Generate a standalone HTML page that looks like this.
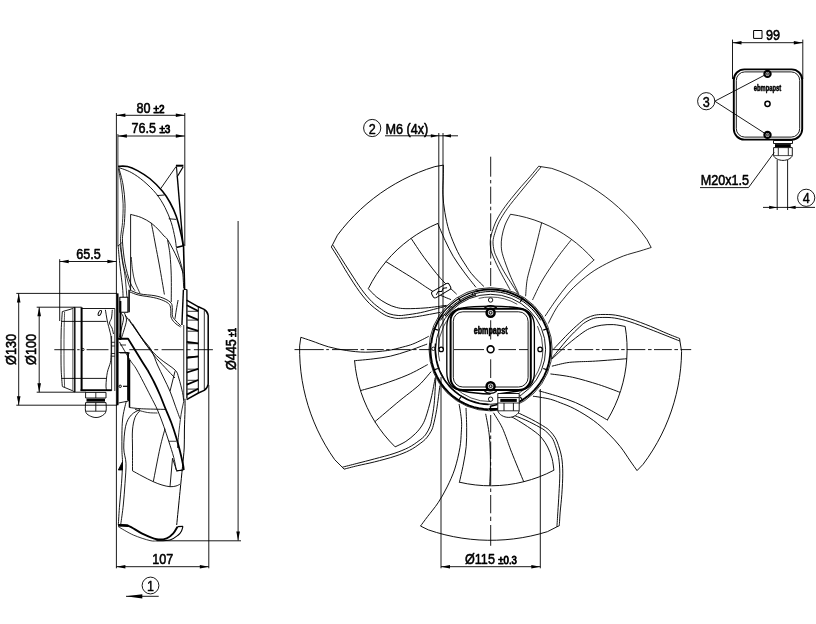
<!DOCTYPE html>
<html><head><meta charset="utf-8"><title>Fan drawing</title>
<style>
html,body{margin:0;padding:0;background:#fff;}
svg{display:block;filter:grayscale(1);}
svg *{vector-effect:none;}
text{font-family:"Liberation Sans",sans-serif;fill:#000;stroke:#000;stroke-width:0.5px;stroke-linejoin:round;}
</style></head><body>
<svg width="816" height="624" viewBox="0 0 816 624" fill="none" stroke="#000" stroke-linecap="butt" stroke-linejoin="round">
<rect x="0" y="0" width="816" height="624" fill="#fff" stroke="none"/>
<g id="front">
<path d="M538.70 166.20 C537.25 167.95 533.40 172.73 530.00 176.70 C526.60 180.67 522.47 185.00 518.30 190.00 C514.13 195.00 508.60 201.70 505.00 206.70 C501.40 211.70 498.83 215.83 496.70 220.00 C494.57 224.17 493.27 228.37 492.20 231.70 C491.13 235.03 490.57 237.28 490.30 240.00 C490.03 242.72 490.28 245.67 490.60 248.00 C490.92 250.33 490.84 250.54 492.20 254.00 C493.56 257.46 495.73 262.72 498.75 268.75 C501.77 274.78 508.38 286.62 510.30 290.20 M541.30 166.70 C539.70 168.63 535.25 174.00 531.70 178.30 C528.15 182.60 524.03 187.50 520.00 192.50 C515.97 197.50 510.97 203.43 507.50 208.30 C504.03 213.17 501.32 217.53 499.20 221.70 C497.08 225.87 495.83 229.97 494.80 233.30 C493.77 236.63 493.10 238.75 493.00 241.70 C492.90 244.65 493.53 248.28 494.20 251.00 C494.87 253.72 495.41 254.62 497.00 258.00 C498.59 261.38 501.08 266.58 503.75 271.25 C506.42 275.92 510.50 282.04 513.00 286.00 C515.50 289.96 517.79 293.50 518.75 295.00 M538.70 166.20 L541.30 166.70 L551.76 168.36 L559.90 171.31 L567.89 174.64 L575.72 178.32 L583.38 182.35 L590.85 186.73 L598.12 191.44 L605.16 196.47 L611.97 201.82 L618.52 207.47 L624.82 213.41 L630.84 219.63 L636.57 226.12 L642.00 232.86 L647.12 239.84 L651.20 247.50 M651.20 247.50 C649.33 248.08 644.65 249.58 640.00 251.00 C635.35 252.42 628.85 253.92 623.30 256.00 C617.75 258.08 612.25 260.58 606.70 263.50 C601.15 266.42 595.57 269.47 590.00 273.50 C584.43 277.53 577.80 283.37 573.30 287.70 C568.80 292.03 565.77 296.17 563.00 299.50 C560.23 302.83 558.62 304.78 556.70 307.70 C554.78 310.62 552.90 314.37 551.50 317.00 C550.10 319.63 548.83 322.42 548.30 323.50 M510.49 214.26 L518.47 215.68 L526.35 217.56 L534.10 219.92 L541.71 222.73 L549.13 225.98 L556.34 229.67 L563.32 233.79 L570.05 238.31 L576.50 243.22 L582.64 248.50 L588.46 254.14 L593.94 260.11 M510.50 214.20 C509.58 216.00 506.43 221.25 505.00 225.00 C503.57 228.75 502.52 233.08 501.90 236.70 C501.28 240.32 501.10 243.44 501.30 246.70 C501.50 249.96 501.65 251.53 503.10 256.25 C504.55 260.97 507.39 268.75 510.00 275.00 C512.61 281.25 517.29 290.62 518.75 293.75 M594.30 259.80 C591.92 261.92 584.47 268.30 580.00 272.50 C575.53 276.70 571.50 280.42 567.50 285.00 C563.50 289.58 559.75 294.79 556.00 300.00 C552.25 305.21 546.83 313.54 545.00 316.25 M541.70 222.50 C540.45 227.63 536.23 245.38 534.20 253.30 C532.17 261.22 530.72 265.34 529.50 270.00 C528.28 274.66 527.55 276.88 526.90 281.25 C526.25 285.62 525.82 293.75 525.60 296.25 M571.50 239.50 C569.17 242.50 562.33 250.75 557.50 257.50 C552.67 264.25 546.67 272.92 542.50 280.00 C538.33 287.08 534.17 296.67 532.50 300.00" stroke-width="0.85" transform="rotate(0 490.60 349.30)"/>
<path d="M538.70 166.20 C537.25 167.95 533.40 172.73 530.00 176.70 C526.60 180.67 522.47 185.00 518.30 190.00 C514.13 195.00 508.60 201.70 505.00 206.70 C501.40 211.70 498.83 215.83 496.70 220.00 C494.57 224.17 493.27 228.37 492.20 231.70 C491.13 235.03 490.57 237.28 490.30 240.00 C490.03 242.72 490.28 245.67 490.60 248.00 C490.92 250.33 490.84 250.54 492.20 254.00 C493.56 257.46 495.73 262.72 498.75 268.75 C501.77 274.78 508.38 286.62 510.30 290.20 M541.30 166.70 C539.70 168.63 535.25 174.00 531.70 178.30 C528.15 182.60 524.03 187.50 520.00 192.50 C515.97 197.50 510.97 203.43 507.50 208.30 C504.03 213.17 501.32 217.53 499.20 221.70 C497.08 225.87 495.83 229.97 494.80 233.30 C493.77 236.63 493.10 238.75 493.00 241.70 C492.90 244.65 493.53 248.28 494.20 251.00 C494.87 253.72 495.41 254.62 497.00 258.00 C498.59 261.38 501.08 266.58 503.75 271.25 C506.42 275.92 510.50 282.04 513.00 286.00 C515.50 289.96 517.79 293.50 518.75 295.00 M538.70 166.20 L541.30 166.70 L551.76 168.36 L559.90 171.31 L567.89 174.64 L575.72 178.32 L583.38 182.35 L590.85 186.73 L598.12 191.44 L605.16 196.47 L611.97 201.82 L618.52 207.47 L624.82 213.41 L630.84 219.63 L636.57 226.12 L642.00 232.86 L647.12 239.84 L651.20 247.50 M651.20 247.50 C649.33 248.08 644.65 249.58 640.00 251.00 C635.35 252.42 628.85 253.92 623.30 256.00 C617.75 258.08 612.25 260.58 606.70 263.50 C601.15 266.42 595.57 269.47 590.00 273.50 C584.43 277.53 577.80 283.37 573.30 287.70 C568.80 292.03 565.77 296.17 563.00 299.50 C560.23 302.83 558.62 304.78 556.70 307.70 C554.78 310.62 552.90 314.37 551.50 317.00 C550.10 319.63 548.83 322.42 548.30 323.50 M510.49 214.26 L518.47 215.68 L526.35 217.56 L534.10 219.92 L541.71 222.73 L549.13 225.98 L556.34 229.67 L563.32 233.79 L570.05 238.31 L576.50 243.22 L582.64 248.50 L588.46 254.14 L593.94 260.11 M510.50 214.20 C509.58 216.00 506.43 221.25 505.00 225.00 C503.57 228.75 502.52 233.08 501.90 236.70 C501.28 240.32 501.10 243.44 501.30 246.70 C501.50 249.96 501.65 251.53 503.10 256.25 C504.55 260.97 507.39 268.75 510.00 275.00 C512.61 281.25 517.29 290.62 518.75 293.75 M594.30 259.80 C591.92 261.92 584.47 268.30 580.00 272.50 C575.53 276.70 571.50 280.42 567.50 285.00 C563.50 289.58 559.75 294.79 556.00 300.00 C552.25 305.21 546.83 313.54 545.00 316.25 M541.70 222.50 C540.45 227.63 536.23 245.38 534.20 253.30 C532.17 261.22 530.72 265.34 529.50 270.00 C528.28 274.66 527.55 276.88 526.90 281.25 C526.25 285.62 525.82 293.75 525.60 296.25 M571.50 239.50 C569.17 242.50 562.33 250.75 557.50 257.50 C552.67 264.25 546.67 272.92 542.50 280.00 C538.33 287.08 534.17 296.67 532.50 300.00" stroke-width="0.85" transform="rotate(72 490.60 349.30)"/>
<path d="M538.70 166.20 C537.25 167.95 533.40 172.73 530.00 176.70 C526.60 180.67 522.47 185.00 518.30 190.00 C514.13 195.00 508.60 201.70 505.00 206.70 C501.40 211.70 498.83 215.83 496.70 220.00 C494.57 224.17 493.27 228.37 492.20 231.70 C491.13 235.03 490.57 237.28 490.30 240.00 C490.03 242.72 490.28 245.67 490.60 248.00 C490.92 250.33 490.84 250.54 492.20 254.00 C493.56 257.46 495.73 262.72 498.75 268.75 C501.77 274.78 508.38 286.62 510.30 290.20 M541.30 166.70 C539.70 168.63 535.25 174.00 531.70 178.30 C528.15 182.60 524.03 187.50 520.00 192.50 C515.97 197.50 510.97 203.43 507.50 208.30 C504.03 213.17 501.32 217.53 499.20 221.70 C497.08 225.87 495.83 229.97 494.80 233.30 C493.77 236.63 493.10 238.75 493.00 241.70 C492.90 244.65 493.53 248.28 494.20 251.00 C494.87 253.72 495.41 254.62 497.00 258.00 C498.59 261.38 501.08 266.58 503.75 271.25 C506.42 275.92 510.50 282.04 513.00 286.00 C515.50 289.96 517.79 293.50 518.75 295.00 M538.70 166.20 L541.30 166.70 L551.76 168.36 L559.90 171.31 L567.89 174.64 L575.72 178.32 L583.38 182.35 L590.85 186.73 L598.12 191.44 L605.16 196.47 L611.97 201.82 L618.52 207.47 L624.82 213.41 L630.84 219.63 L636.57 226.12 L642.00 232.86 L647.12 239.84 L651.20 247.50 M651.20 247.50 C649.33 248.08 644.65 249.58 640.00 251.00 C635.35 252.42 628.85 253.92 623.30 256.00 C617.75 258.08 612.25 260.58 606.70 263.50 C601.15 266.42 595.57 269.47 590.00 273.50 C584.43 277.53 577.80 283.37 573.30 287.70 C568.80 292.03 565.77 296.17 563.00 299.50 C560.23 302.83 558.62 304.78 556.70 307.70 C554.78 310.62 552.90 314.37 551.50 317.00 C550.10 319.63 548.83 322.42 548.30 323.50 M510.49 214.26 L518.47 215.68 L526.35 217.56 L534.10 219.92 L541.71 222.73 L549.13 225.98 L556.34 229.67 L563.32 233.79 L570.05 238.31 L576.50 243.22 L582.64 248.50 L588.46 254.14 L593.94 260.11 M510.50 214.20 C509.58 216.00 506.43 221.25 505.00 225.00 C503.57 228.75 502.52 233.08 501.90 236.70 C501.28 240.32 501.10 243.44 501.30 246.70 C501.50 249.96 501.65 251.53 503.10 256.25 C504.55 260.97 507.39 268.75 510.00 275.00 C512.61 281.25 517.29 290.62 518.75 293.75 M594.30 259.80 C591.92 261.92 584.47 268.30 580.00 272.50 C575.53 276.70 571.50 280.42 567.50 285.00 C563.50 289.58 559.75 294.79 556.00 300.00 C552.25 305.21 546.83 313.54 545.00 316.25 M541.70 222.50 C540.45 227.63 536.23 245.38 534.20 253.30 C532.17 261.22 530.72 265.34 529.50 270.00 C528.28 274.66 527.55 276.88 526.90 281.25 C526.25 285.62 525.82 293.75 525.60 296.25 M571.50 239.50 C569.17 242.50 562.33 250.75 557.50 257.50 C552.67 264.25 546.67 272.92 542.50 280.00 C538.33 287.08 534.17 296.67 532.50 300.00" stroke-width="0.85" transform="rotate(144 490.60 349.30)"/>
<path d="M538.70 166.20 C537.25 167.95 533.40 172.73 530.00 176.70 C526.60 180.67 522.47 185.00 518.30 190.00 C514.13 195.00 508.60 201.70 505.00 206.70 C501.40 211.70 498.83 215.83 496.70 220.00 C494.57 224.17 493.27 228.37 492.20 231.70 C491.13 235.03 490.57 237.28 490.30 240.00 C490.03 242.72 490.28 245.67 490.60 248.00 C490.92 250.33 490.84 250.54 492.20 254.00 C493.56 257.46 495.73 262.72 498.75 268.75 C501.77 274.78 508.38 286.62 510.30 290.20 M541.30 166.70 C539.70 168.63 535.25 174.00 531.70 178.30 C528.15 182.60 524.03 187.50 520.00 192.50 C515.97 197.50 510.97 203.43 507.50 208.30 C504.03 213.17 501.32 217.53 499.20 221.70 C497.08 225.87 495.83 229.97 494.80 233.30 C493.77 236.63 493.10 238.75 493.00 241.70 C492.90 244.65 493.53 248.28 494.20 251.00 C494.87 253.72 495.41 254.62 497.00 258.00 C498.59 261.38 501.08 266.58 503.75 271.25 C506.42 275.92 510.50 282.04 513.00 286.00 C515.50 289.96 517.79 293.50 518.75 295.00 M538.70 166.20 L541.30 166.70 L551.76 168.36 L559.90 171.31 L567.89 174.64 L575.72 178.32 L583.38 182.35 L590.85 186.73 L598.12 191.44 L605.16 196.47 L611.97 201.82 L618.52 207.47 L624.82 213.41 L630.84 219.63 L636.57 226.12 L642.00 232.86 L647.12 239.84 L651.20 247.50 M651.20 247.50 C649.33 248.08 644.65 249.58 640.00 251.00 C635.35 252.42 628.85 253.92 623.30 256.00 C617.75 258.08 612.25 260.58 606.70 263.50 C601.15 266.42 595.57 269.47 590.00 273.50 C584.43 277.53 577.80 283.37 573.30 287.70 C568.80 292.03 565.77 296.17 563.00 299.50 C560.23 302.83 558.62 304.78 556.70 307.70 C554.78 310.62 552.90 314.37 551.50 317.00 C550.10 319.63 548.83 322.42 548.30 323.50 M510.49 214.26 L518.47 215.68 L526.35 217.56 L534.10 219.92 L541.71 222.73 L549.13 225.98 L556.34 229.67 L563.32 233.79 L570.05 238.31 L576.50 243.22 L582.64 248.50 L588.46 254.14 L593.94 260.11 M510.50 214.20 C509.58 216.00 506.43 221.25 505.00 225.00 C503.57 228.75 502.52 233.08 501.90 236.70 C501.28 240.32 501.10 243.44 501.30 246.70 C501.50 249.96 501.65 251.53 503.10 256.25 C504.55 260.97 507.39 268.75 510.00 275.00 C512.61 281.25 517.29 290.62 518.75 293.75 M594.30 259.80 C591.92 261.92 584.47 268.30 580.00 272.50 C575.53 276.70 571.50 280.42 567.50 285.00 C563.50 289.58 559.75 294.79 556.00 300.00 C552.25 305.21 546.83 313.54 545.00 316.25 M541.70 222.50 C540.45 227.63 536.23 245.38 534.20 253.30 C532.17 261.22 530.72 265.34 529.50 270.00 C528.28 274.66 527.55 276.88 526.90 281.25 C526.25 285.62 525.82 293.75 525.60 296.25 M571.50 239.50 C569.17 242.50 562.33 250.75 557.50 257.50 C552.67 264.25 546.67 272.92 542.50 280.00 C538.33 287.08 534.17 296.67 532.50 300.00" stroke-width="0.85" transform="rotate(216 490.60 349.30)"/>
<path d="M538.70 166.20 C537.25 167.95 533.40 172.73 530.00 176.70 C526.60 180.67 522.47 185.00 518.30 190.00 C514.13 195.00 508.60 201.70 505.00 206.70 C501.40 211.70 498.83 215.83 496.70 220.00 C494.57 224.17 493.27 228.37 492.20 231.70 C491.13 235.03 490.57 237.28 490.30 240.00 C490.03 242.72 490.28 245.67 490.60 248.00 C490.92 250.33 490.84 250.54 492.20 254.00 C493.56 257.46 495.73 262.72 498.75 268.75 C501.77 274.78 508.38 286.62 510.30 290.20 M541.30 166.70 C539.70 168.63 535.25 174.00 531.70 178.30 C528.15 182.60 524.03 187.50 520.00 192.50 C515.97 197.50 510.97 203.43 507.50 208.30 C504.03 213.17 501.32 217.53 499.20 221.70 C497.08 225.87 495.83 229.97 494.80 233.30 C493.77 236.63 493.10 238.75 493.00 241.70 C492.90 244.65 493.53 248.28 494.20 251.00 C494.87 253.72 495.41 254.62 497.00 258.00 C498.59 261.38 501.08 266.58 503.75 271.25 C506.42 275.92 510.50 282.04 513.00 286.00 C515.50 289.96 517.79 293.50 518.75 295.00 M538.70 166.20 L541.30 166.70 L551.76 168.36 L559.90 171.31 L567.89 174.64 L575.72 178.32 L583.38 182.35 L590.85 186.73 L598.12 191.44 L605.16 196.47 L611.97 201.82 L618.52 207.47 L624.82 213.41 L630.84 219.63 L636.57 226.12 L642.00 232.86 L647.12 239.84 L651.20 247.50 M651.20 247.50 C649.33 248.08 644.65 249.58 640.00 251.00 C635.35 252.42 628.85 253.92 623.30 256.00 C617.75 258.08 612.25 260.58 606.70 263.50 C601.15 266.42 595.57 269.47 590.00 273.50 C584.43 277.53 577.80 283.37 573.30 287.70 C568.80 292.03 565.77 296.17 563.00 299.50 C560.23 302.83 558.62 304.78 556.70 307.70 C554.78 310.62 552.90 314.37 551.50 317.00 C550.10 319.63 548.83 322.42 548.30 323.50 M510.49 214.26 L518.47 215.68 L526.35 217.56 L534.10 219.92 L541.71 222.73 L549.13 225.98 L556.34 229.67 L563.32 233.79 L570.05 238.31 L576.50 243.22 L582.64 248.50 L588.46 254.14 L593.94 260.11 M510.50 214.20 C509.58 216.00 506.43 221.25 505.00 225.00 C503.57 228.75 502.52 233.08 501.90 236.70 C501.28 240.32 501.10 243.44 501.30 246.70 C501.50 249.96 501.65 251.53 503.10 256.25 C504.55 260.97 507.39 268.75 510.00 275.00 C512.61 281.25 517.29 290.62 518.75 293.75 M594.30 259.80 C591.92 261.92 584.47 268.30 580.00 272.50 C575.53 276.70 571.50 280.42 567.50 285.00 C563.50 289.58 559.75 294.79 556.00 300.00 C552.25 305.21 546.83 313.54 545.00 316.25 M541.70 222.50 C540.45 227.63 536.23 245.38 534.20 253.30 C532.17 261.22 530.72 265.34 529.50 270.00 C528.28 274.66 527.55 276.88 526.90 281.25 C526.25 285.62 525.82 293.75 525.60 296.25 M571.50 239.50 C569.17 242.50 562.33 250.75 557.50 257.50 C552.67 264.25 546.67 272.92 542.50 280.00 C538.33 287.08 534.17 296.67 532.50 300.00" stroke-width="0.85" transform="rotate(288 490.60 349.30)"/>
<circle cx="490.60" cy="349.30" r="61.5" fill="#fff" stroke="none"/>
<circle cx="490.60" cy="349.30" r="61.60" stroke-width="0.8" />
<path d="M475.12 291.54 L479.30 290.58 L483.53 289.92 L487.80 289.57 L492.08 289.52 L496.35 289.78 L500.60 290.34 L504.79 291.21 L508.91 292.37 L512.94 293.83 L516.85 295.57 L520.63 297.59 L524.26 299.87 L527.71 302.41 L530.97 305.18 L534.02 308.18 L536.85 311.40 L539.45 314.80 L541.79 318.39 L543.87 322.13 L545.68 326.01 L547.21 330.02 L548.44 334.12 L549.38 338.30 L550.02 342.53 L550.35 346.80 L550.37 351.08 L550.09 355.36 L549.51 359.60 L548.62 363.79 L547.43 367.90 L545.96 371.92 L544.19 375.83 L542.16 379.59 L539.86 383.21 L537.31 386.65 L534.51 389.89 L531.49 392.93 L528.27 395.75 L524.85 398.32 L521.25 400.65 L517.50 402.71 L513.60 404.50 L509.60 406.00 L505.49 407.22 L501.31 408.13 L497.07 408.75 L492.80 409.06 L488.51 409.06" stroke-width="1.9" />
<path d="M431.33 343.07 L431.73 339.98 L432.30 336.91 L433.03 333.87 L433.92 330.88 L434.96 327.94 L436.15 325.06 L437.50 322.24 L438.98 319.50 L440.62 316.84 L442.38 314.27" stroke-width="1.9" />
<path d="M442.22 314.15 L444.29 311.46 L446.51 308.90 L448.87 306.47 L451.37 304.17 L453.99 302.02 L456.73 300.02 L459.58 298.18 L462.53 296.50 L465.56 294.99 L468.68 293.66 L471.87 292.51 L475.12 291.54" stroke-width="1.2" />
<path d="M445.05 316.21 L447.00 313.68 L449.09 311.26 L451.31 308.97 L453.66 306.81 L456.13 304.78 L458.71 302.90 L461.39 301.17 L464.17 299.59 L467.03 298.17 L469.97 296.92 L472.97 295.83 L476.03 294.92" stroke-width="1.3" />
<circle cx="450.45" cy="307.72" r="1.50" stroke-width="0.9" fill="#fff"/>
<circle cx="473.70" cy="294.03" r="1.50" stroke-width="0.9" fill="#fff"/>
<circle cx="490.60" cy="349.30" r="55.00" stroke-width="0.9" />
<path d="M488.67 404.67 L484.14 404.32 L479.65 403.61 L475.24 402.53 L470.93 401.09 L466.75 399.30 L462.73 397.18 L458.90 394.74 L455.29 391.99 L451.91 388.95 L448.79 385.65 L445.95 382.10 L443.41 378.33 L441.19 374.36 L439.31 370.23 L437.76 365.96 L436.58 361.57 L435.75 357.11 L435.30 352.59 L435.21 348.04 L435.50 343.51" stroke-width="1.4" />
<path d="M488.50 409.46 L483.58 409.09 L478.70 408.31 L473.91 407.14 L469.22 405.58 L464.68 403.64 L460.32 401.33 L456.16 398.67 L452.23 395.68 L448.56 392.38 L445.17 388.79 L442.08 384.94 L439.33 380.84 L436.91 376.54 L434.86 372.05 L433.19 367.40 L431.90 362.64 L431.00 357.78 L430.51 352.87 L430.42 347.93 L430.73 343.01" stroke-width="2.0" />
<path d="M440.54 320.40 L443.25 316.15 L446.32 312.15 L449.73 308.43 L453.45 305.02 L457.45 301.95 L461.70 299.24 L466.17 296.92 L470.83 294.99 L475.64 293.47 L480.56 292.38 L485.56 291.72 L490.60 291.50 L495.64 291.72 L500.64 292.38 L505.56 293.47 L510.37 294.99 L515.03 296.92 L519.50 299.24 L523.75 301.95 L527.75 305.02 L531.47 308.43 L534.88 312.15 L537.95 316.15 L540.66 320.40" stroke-width="1.0" />
<circle cx="490.60" cy="349.30" r="52.30" stroke-width="0.7" stroke-dasharray="60 22 40 30"/>
<rect x="450.60" y="308.80" width="80.20" height="81.20" rx="12.00" ry="12.00" stroke-width="2.0" fill="#fff"/>
<rect x="453.30" y="311.80" width="74.80" height="75.20" rx="9.50" ry="9.50" stroke-width="0.9" />
<path d="M446.8 349 L446.8 327 C446.8 316 452 309.5 462.7 308 C475 305.6 506 305.6 518.5 308 C529 309.5 534.4 316 534.4 327 L534.4 372 C534.4 383 529 389.5 518.5 391 L500 393.6" stroke-width="1.3" />
<path d="M446.8 349 L446.8 372 C446.8 383 452 389.5 462.7 391 C470 392.6 480 393.8 490.6 394" stroke-width="1.3" />
<path d="M484.5 307.8 Q490.6 303.6 496.7 307.8" stroke-width="1.6" />
<path d="M484.5 391.2 Q490.6 395.4 496.7 391.2" stroke-width="1.2" />
<circle cx="490.60" cy="312.75" r="4.00" stroke-width="2.5" fill="#ddd"/>
<circle cx="490.60" cy="312.75" r="1.40" stroke-width="1.0" />
<circle cx="490.60" cy="386.20" r="4.00" stroke-width="2.5" fill="#ddd"/>
<circle cx="490.60" cy="386.20" r="1.40" stroke-width="1.0" />
<circle cx="490.60" cy="300.00" r="2.20" stroke-width="0.9" />
<circle cx="490.60" cy="399.20" r="2.20" stroke-width="0.9" />
<circle cx="540.10" cy="349.40" r="2.20" stroke-width="1.3" />
<circle cx="441.20" cy="349.40" r="2.20" stroke-width="1.3" />
<circle cx="433.40" cy="348.80" r="1.70" stroke-width="0.9" />
<circle cx="490.60" cy="349.30" r="3.40" stroke-width="1.6" />
<line x1="460.92" y1="301.81" x2="458.27" y2="297.57" stroke-width="1.2" />
<line x1="520.28" y1="301.81" x2="522.93" y2="297.57" stroke-width="1.2" />
<line x1="543.22" y1="330.15" x2="547.92" y2="328.44" stroke-width="1.2" />
<line x1="543.22" y1="368.45" x2="547.92" y2="370.16" stroke-width="1.2" />
<line x1="520.28" y1="396.79" x2="522.93" y2="401.03" stroke-width="1.2" />
<line x1="460.92" y1="396.79" x2="458.27" y2="401.03" stroke-width="1.2" />
<line x1="437.98" y1="368.45" x2="433.28" y2="370.16" stroke-width="1.2" />
<line x1="437.98" y1="330.15" x2="433.28" y2="328.44" stroke-width="1.2" />
<path d="M497.8 393.5 L519.2 393.5 L519.2 410.8 C518.5 414.5 513.5 417.4 508.8 417.4 C503.5 417.4 499 414.5 497.8 410.8 Z" stroke-width="0.9" fill="#fff"/>
<line x1="497.80" y1="397.60" x2="519.20" y2="397.60" stroke-width="0.9" />
<line x1="500.30" y1="400.40" x2="516.80" y2="400.40" stroke-width="3.0" />
<line x1="497.80" y1="403.00" x2="519.20" y2="403.00" stroke-width="0.8" />
<line x1="497.80" y1="410.80" x2="519.20" y2="410.80" stroke-width="0.8" />
<line x1="504.00" y1="403.00" x2="504.00" y2="410.80" stroke-width="0.9" />
<line x1="513.40" y1="403.00" x2="513.40" y2="410.80" stroke-width="0.9" />
<path d="M497.50 404.50 L490.50 406.20 L490.50 410.20 L497.50 409.20" stroke-width="1.4" />
<text transform="translate(490.60 333.70) scale(0.630 1)" font-size="11.40" text-anchor="middle" font-weight="bold" style="stroke-width:0.7px">ebmpapst</text>
<g transform="translate(441.2 290.6) rotate(-30)"><rect x="-10" y="-3.5" width="20" height="7" rx="2.2" stroke-width="0.9" fill="#fff"/><path d="M-6.5 1.2 L-3 -0.8 L0 1 L3 -1 L6.5 0.5" stroke-width="0.9"/></g>
<path d="M294.50 349.60 H323.75 M326.25 349.60 H328.90 M332.00 349.60 H358.00 M360.60 349.60 H364.20 M366.80 349.60 H383.75 M386.25 349.60 H389.60 M392.00 349.60 H410.50 M413.00 349.60 H416.60 M419.20 349.60 H430.00 M454.00 349.60 H484.00 M498.50 349.60 H516.00 M519.00 349.60 H528.00 M552.60 349.60 H565.00 M567.60 349.60 H571.60 M574.70 349.60 H593.20 M595.90 349.60 H599.50 M602.00 349.60 H619.00 M621.20 349.60 H624.70 M626.80 349.60 H645.30 M648.00 349.60 H651.60 M654.00 349.60 H671.80 M674.40 349.60 H678.00 M680.60 349.60 H691.20" stroke-width="0.9" />
<path d="M490.70 156.70 V176.70 M490.70 180.00 V183.40 M490.70 186.70 V203.80 M490.70 206.70 V210.20 M490.70 213.30 V231.00 M490.70 234.00 V237.50 M490.70 240.50 V258.50 M490.70 261.50 V265.00 M490.70 268.00 V286.00 M490.70 320.25 V339.50 M490.70 359.30 V378.00 M490.70 415.00 V432.50 M490.70 435.50 V439.00 M490.70 441.50 V459.00 M490.70 462.00 V465.50 M490.70 468.00 V485.50 M490.70 488.50 V492.00 M490.70 495.00 V513.30 M490.70 516.70 V521.00 M490.70 525.00 V545.80" stroke-width="0.9" />
<line x1="441.00" y1="377.00" x2="441.00" y2="568.30" stroke-width="0.9" />
<line x1="540.30" y1="389.00" x2="540.30" y2="568.30" stroke-width="0.9" />
<line x1="441.00" y1="566.70" x2="540.30" y2="566.70" stroke-width="0.9" />
<path d="M441.00 566.70 L450.00 564.90 L450.00 568.50 Z" fill="#000" stroke="none"/>
<path d="M540.30 566.70 L531.30 568.50 L531.30 564.90 Z" fill="#000" stroke="none"/>
<text transform="translate(465.00 564.10) scale(0.819 1)" font-size="15.40" text-anchor="start" font-weight="normal" style="stroke-width:0.6px" >Ø115</text>
<text transform="translate(498.30 564.10) scale(0.920 1)" font-size="10.48" text-anchor="start" font-weight="normal" style="stroke-width:0.85px" >±0.3</text>
<circle cx="372.20" cy="128.00" r="8.60" stroke-width="0.9" />
<text transform="translate(372.20 133.60) scale(0.856 1)" font-size="14.74" text-anchor="middle" font-weight="normal" style="stroke-width:0.45px">2</text>
<text transform="translate(385.60 133.70) scale(0.819 1)" font-size="15.40" text-anchor="start" font-weight="normal" style="stroke-width:0.6px" >M6 (4x)</text>
<line x1="385.00" y1="135.80" x2="458.00" y2="135.80" stroke-width="0.9" />
<line x1="438.80" y1="133.00" x2="438.80" y2="349.00" stroke-width="0.9" />
<line x1="443.00" y1="133.00" x2="443.00" y2="349.00" stroke-width="0.9" />
<path d="M438.80 135.80 L430.80 137.40 L430.80 134.20 Z" fill="#000" stroke="none"/>
<path d="M443.00 135.80 L451.00 134.20 L451.00 137.40 Z" fill="#000" stroke="none"/>
</g>
<g id="detail">
<line x1="732.50" y1="39.60" x2="732.50" y2="79.00" stroke-width="0.9" />
<line x1="802.80" y1="39.60" x2="802.80" y2="79.00" stroke-width="0.9" />
<line x1="732.50" y1="42.70" x2="802.80" y2="42.70" stroke-width="0.9" />
<path d="M732.50 42.70 L741.50 40.90 L741.50 44.50 Z" fill="#000" stroke="none"/>
<path d="M802.80 42.70 L793.80 44.50 L793.80 40.90 Z" fill="#000" stroke="none"/>
<rect x="753.6" y="30.5" width="8.4" height="7.9" stroke-width="1"/>
<text transform="translate(766.00 39.60) scale(0.819 1)" font-size="15.40" text-anchor="start" font-weight="normal" style="stroke-width:0.6px" >99</text>
<rect x="733.80" y="69.40" width="68.40" height="70.20" rx="10.50" ry="10.50" stroke-width="1.9" />
<rect x="736.30" y="71.90" width="63.40" height="65.20" rx="8.50" ry="8.50" stroke-width="0.9" />
<circle cx="767.50" cy="73.90" r="3.10" stroke-width="2.2" fill="#ddd"/>
<circle cx="767.50" cy="73.90" r="1.00" stroke-width="0.8" />
<circle cx="767.50" cy="134.90" r="3.10" stroke-width="2.2" fill="#ddd"/>
<circle cx="767.50" cy="134.90" r="1.00" stroke-width="0.8" />
<text transform="translate(767.50 90.70) scale(0.630 1)" font-size="9.20" text-anchor="middle" font-weight="bold" style="stroke-width:0.55px">ebmpapst</text>
<circle cx="767.50" cy="103.80" r="2.60" stroke-width="1.5" />
<circle cx="706.20" cy="101.20" r="8.60" stroke-width="0.9" />
<text transform="translate(706.20 106.80) scale(0.856 1)" font-size="14.74" text-anchor="middle" font-weight="normal" style="stroke-width:0.45px">3</text>
<line x1="714.80" y1="101.20" x2="764.50" y2="75.20" stroke-width="0.9" />
<line x1="714.80" y1="101.20" x2="764.30" y2="133.00" stroke-width="0.9" />
<path d="M773.50 140.50 L792.50 140.50 L792.50 143.50 L773.50 143.50Z" stroke-width="0.9" />
<line x1="775.00" y1="145.60" x2="790.80" y2="145.60" stroke-width="3.0" />
<path d="M773.6 147.6 L792.3 147.6 L792.3 155.6 C791.5 158.5 787 160.4 783 160.4 C779 160.4 774.5 158.5 773.6 155.6 Z" stroke-width="0.9" />
<line x1="773.60" y1="155.60" x2="792.30" y2="155.60" stroke-width="0.7" />
<line x1="778.30" y1="147.60" x2="778.30" y2="155.60" stroke-width="0.8" />
<line x1="788.30" y1="147.60" x2="788.30" y2="155.60" stroke-width="0.8" />
<line x1="777.20" y1="160.00" x2="777.20" y2="210.00" stroke-width="0.9" />
<line x1="787.60" y1="160.00" x2="787.60" y2="210.00" stroke-width="0.9" />
<text transform="translate(700.80 184.70) scale(0.819 1)" font-size="15.40" text-anchor="start" font-weight="normal" style="stroke-width:0.6px" >M20x1.5</text>
<path d="M700.00 187.60 L748.50 187.60 L774.20 152.50" stroke-width="0.9" />
<line x1="763.00" y1="207.40" x2="815.00" y2="207.40" stroke-width="0.9" />
<path d="M777.20 207.40 L769.20 209.10 L769.20 205.70 Z" fill="#000" stroke="none"/>
<path d="M787.60 207.40 L795.60 205.70 L795.60 209.10 Z" fill="#000" stroke="none"/>
<circle cx="806.20" cy="197.80" r="8.60" stroke-width="0.9" />
<text transform="translate(806.20 203.40) scale(0.856 1)" font-size="14.74" text-anchor="middle" font-weight="normal" style="stroke-width:0.45px">4</text>
</g>
<g id="side">
<line x1="116.40" y1="113.00" x2="116.40" y2="568.30" stroke-width="0.9" />
<line x1="117.90" y1="134.00" x2="117.90" y2="246.00" stroke-width="0.8" />
<line x1="184.80" y1="113.00" x2="184.80" y2="246.00" stroke-width="0.9" />
<line x1="116.40" y1="115.30" x2="184.80" y2="115.30" stroke-width="0.9" />
<path d="M116.40 115.30 L125.40 113.50 L125.40 117.10 Z" fill="#000" stroke="none"/>
<path d="M184.80 115.30 L175.80 117.10 L175.80 113.50 Z" fill="#000" stroke="none"/>
<line x1="117.90" y1="136.00" x2="184.80" y2="136.00" stroke-width="0.9" />
<path d="M117.90 136.00 L126.90 134.20 L126.90 137.80 Z" fill="#000" stroke="none"/>
<path d="M184.80 136.00 L175.80 137.80 L175.80 134.20 Z" fill="#000" stroke="none"/>
<text transform="translate(136.50 112.60) scale(0.819 1)" font-size="15.40" text-anchor="start" font-weight="normal" style="stroke-width:0.6px" >80</text>
<text transform="translate(153.60 112.60) scale(0.950 1)" font-size="10.48" text-anchor="start" font-weight="normal" style="stroke-width:0.85px" >±2</text>
<text transform="translate(131.50 133.30) scale(0.819 1)" font-size="15.40" text-anchor="start" font-weight="normal" style="stroke-width:0.6px" >76.5</text>
<text transform="translate(159.40 133.30) scale(0.950 1)" font-size="10.48" text-anchor="start" font-weight="normal" style="stroke-width:0.85px" >±3</text>
<line x1="59.70" y1="259.20" x2="59.70" y2="321.00" stroke-width="0.9" />
<line x1="59.70" y1="261.50" x2="116.40" y2="261.50" stroke-width="0.9" />
<path d="M59.70 261.50 L68.70 259.70 L68.70 263.30 Z" fill="#000" stroke="none"/>
<path d="M116.40 261.50 L107.40 263.30 L107.40 259.70 Z" fill="#000" stroke="none"/>
<text transform="translate(76.30 258.70) scale(0.819 1)" font-size="15.40" text-anchor="start" font-weight="normal" style="stroke-width:0.6px" >65.5</text>
<line x1="16.30" y1="293.40" x2="117.20" y2="293.40" stroke-width="0.9" />
<line x1="16.30" y1="405.20" x2="117.20" y2="405.20" stroke-width="0.9" />
<line x1="18.70" y1="293.40" x2="18.70" y2="405.20" stroke-width="0.9" />
<path d="M18.70 293.40 L20.50 302.40 L16.90 302.40 Z" fill="#000" stroke="none"/>
<path d="M18.70 405.20 L16.90 396.20 L20.50 396.20 Z" fill="#000" stroke="none"/>
<text transform="translate(16.20 349.50) rotate(-90) scale(0.819 1)" font-size="15.40" text-anchor="middle" font-weight="normal" style="stroke-width:0.6px" >Ø130</text>
<line x1="36.70" y1="307.20" x2="81.60" y2="307.20" stroke-width="0.9" />
<line x1="36.70" y1="392.20" x2="86.00" y2="392.20" stroke-width="0.9" />
<line x1="39.20" y1="307.20" x2="39.20" y2="392.20" stroke-width="0.9" />
<path d="M39.20 307.20 L41.00 316.20 L37.40 316.20 Z" fill="#000" stroke="none"/>
<path d="M39.20 392.20 L37.40 383.20 L41.00 383.20 Z" fill="#000" stroke="none"/>
<text transform="translate(36.40 349.50) rotate(-90) scale(0.819 1)" font-size="15.40" text-anchor="middle" font-weight="normal" style="stroke-width:0.6px" >Ø100</text>
<line x1="238.10" y1="221.00" x2="238.10" y2="540.60" stroke-width="0.9" />
<path d="M238.10 540.60 L236.30 531.60 L239.90 531.60 Z" fill="#000" stroke="none"/>
<line x1="156.70" y1="540.80" x2="241.00" y2="540.80" stroke-width="0.9" />
<text transform="translate(235.50 370.00) rotate(-90) scale(0.819 1)" font-size="15.40" text-anchor="start" font-weight="normal" style="stroke-width:0.6px" >Ø445</text>
<text transform="translate(235.50 337.00) rotate(-90) scale(0.800 1)" font-size="10.48" text-anchor="start" font-weight="normal" style="stroke-width:0.85px" >±1</text>
<line x1="208.80" y1="385.00" x2="208.80" y2="568.30" stroke-width="0.9" />
<line x1="116.40" y1="566.70" x2="208.80" y2="566.70" stroke-width="0.9" />
<path d="M116.40 566.70 L125.40 564.90 L125.40 568.50 Z" fill="#000" stroke="none"/>
<path d="M208.80 566.70 L199.80 568.50 L199.80 564.90 Z" fill="#000" stroke="none"/>
<text transform="translate(152.20 563.70) scale(0.819 1)" font-size="15.40" text-anchor="start" font-weight="normal" style="stroke-width:0.6px" >107</text>
<circle cx="150.50" cy="585.50" r="8.40" stroke-width="0.9" />
<text transform="translate(150.50 591.10) scale(0.856 1)" font-size="14.74" text-anchor="middle" font-weight="normal" style="stroke-width:0.45px">1</text>
<line x1="126.00" y1="596.30" x2="158.70" y2="596.30" stroke-width="0.9" />
<path d="M125.80 596.30 L142.30 594.20 L142.30 598.40 Z" fill="#000" stroke="none"/>
<path d="M54.30 349.70 H74.10 M77.20 349.70 H79.60 M86.60 349.70 H108.50 M129.30 349.70 H151.20 M154.30 349.70 H158.20 M161.60 349.70 H183.50 M186.60 349.70 H190.50 M193.90 349.70 H212.90" stroke-width="0.9" />
<path d="M118.10 166.25 C119.67 166.29 124.27 165.78 127.50 166.50 C130.73 167.22 133.75 168.56 137.50 170.60 C141.25 172.64 145.83 175.31 150.00 178.75 C154.17 182.19 159.17 187.29 162.50 191.25 C165.83 195.21 167.71 198.33 170.00 202.50 C172.29 206.67 174.38 210.83 176.25 216.25 C178.12 221.67 180.09 230.11 181.25 235.00 C182.41 239.89 182.88 243.83 183.20 245.60" stroke-width="1.6" />
<path d="M118.75 167.50 C120.83 168.33 127.08 170.21 131.25 172.50 C135.42 174.79 139.58 177.71 143.75 181.25 C147.92 184.79 152.71 189.38 156.25 193.75 C159.79 198.12 162.50 202.71 165.00 207.50 C167.50 212.29 169.58 217.42 171.25 222.50 C172.92 227.58 174.16 233.88 175.00 238.00 C175.84 242.12 176.08 245.67 176.30 247.20" stroke-width="0.9" />
<line x1="156.90" y1="195.60" x2="164.40" y2="195.00" stroke-width="0.9" />
<line x1="168.75" y1="218.75" x2="176.25" y2="219.40" stroke-width="0.9" />
<line x1="176.30" y1="247.50" x2="183.30" y2="245.80" stroke-width="1.6" />
<line x1="175.90" y1="165.70" x2="183.40" y2="165.70" stroke-width="2.0" />
<line x1="183.10" y1="166.90" x2="177.50" y2="176.25" stroke-width="1.1" />
<line x1="176.50" y1="166.70" x2="177.25" y2="176.70" stroke-width="1.1" />
<line x1="177.25" y1="176.25" x2="183.00" y2="244.50" stroke-width="1.4" />
<line x1="176.10" y1="166.50" x2="160.60" y2="188.75" stroke-width="0.9" />
<path d="M183.50 244.00 L184.60 290.00" stroke-width="1.6" />
<line x1="130.60" y1="214.40" x2="130.60" y2="290.00" stroke-width="0.9" />
<path d="M130.60 214.40 C132.38 214.92 137.81 216.05 141.25 217.50 C144.69 218.95 148.33 221.02 151.25 223.10 C154.17 225.18 156.62 227.85 158.75 230.00 C160.88 232.15 162.54 234.42 164.00 236.00 C165.46 237.58 165.67 236.62 167.50 239.50 C169.33 242.38 172.92 249.08 175.00 253.25 C177.08 257.42 178.65 261.17 180.00 264.50 C181.35 267.83 182.58 271.79 183.10 273.25" stroke-width="0.9" />
<path d="M151.25 223.10 C151.56 224.58 152.39 228.35 153.10 232.00 C153.81 235.65 154.43 239.33 155.50 245.00 C156.57 250.67 158.02 257.75 159.50 266.00 C160.98 274.25 163.58 289.75 164.40 294.50" stroke-width="0.9" />
<path d="M167.50 239.50 C167.92 242.08 169.38 248.96 170.00 255.00 C170.62 261.04 171.04 267.92 171.25 275.75 C171.46 283.58 171.25 297.62 171.25 302.00" stroke-width="0.9" />
<path d="M176.25 248.25 C176.88 250.33 178.96 257.00 180.00 260.75 C181.04 264.50 181.88 266.17 182.50 270.75 C183.12 275.33 183.54 285.33 183.75 288.25" stroke-width="0.9" />
<path d="M118.75 167.50 C119.47 170.42 122.06 178.96 123.10 185.00 C124.14 191.04 124.78 197.50 125.00 203.75 C125.22 210.00 124.72 217.79 124.40 222.50 C124.08 227.21 123.42 228.75 123.10 232.00 C122.78 235.25 122.18 236.79 122.50 242.00 C122.82 247.21 123.75 256.58 125.00 263.25 C126.25 269.92 128.33 277.42 130.00 282.00 C131.67 286.58 134.17 289.29 135.00 290.75" stroke-width="0.9" />
<path d="M118.50 168.75 C118.96 171.46 120.48 179.17 121.25 185.00 C122.02 190.83 122.89 197.50 123.10 203.75 C123.31 210.00 122.81 217.79 122.50 222.50 C122.19 227.21 121.57 228.75 121.25 232.00 C120.93 235.25 120.29 236.79 120.60 242.00 C120.91 247.21 121.85 256.58 123.10 263.25 C124.35 269.92 126.85 277.62 128.10 282.00 C129.35 286.38 130.18 288.25 130.60 289.50" stroke-width="0.8" />
<path d="M117.90 246.00 L121.90 242.60" stroke-width="0.8" />
<path d="M118.10 245.75 C118.42 249.12 119.27 259.12 120.00 266.00 C120.73 272.88 121.98 281.83 122.50 287.00 C123.02 292.17 123.00 295.33 123.10 297.00" stroke-width="0.9" />
<path d="M120.00 244.50 C120.42 247.42 121.67 256.79 122.50 262.00 C123.33 267.21 124.27 269.92 125.00 275.75 C125.73 281.58 126.58 293.46 126.90 297.00" stroke-width="0.8" />
<path d="M131.25 257.00 C131.46 259.17 131.88 265.83 132.50 270.00 C133.12 274.17 133.75 278.12 135.00 282.00 C136.25 285.88 139.17 291.38 140.00 293.25" stroke-width="0.8" />
<path d="M130.00 290.10 C131.67 290.73 135.83 292.96 140.00 293.90 C144.17 294.84 150.83 294.92 155.00 295.75 C159.17 296.58 162.29 297.65 165.00 298.90 C167.71 300.15 170.03 301.57 171.25 303.25 C172.47 304.93 172.09 306.83 172.30 309.00 C172.51 311.17 171.88 314.25 172.50 316.25 C173.12 318.25 174.54 319.33 176.00 321.00 C177.46 322.67 180.38 325.38 181.25 326.25" stroke-width="0.9" />
<path d="M130.00 292.00 C131.46 292.52 134.79 294.17 138.75 295.10 C142.71 296.03 149.58 296.66 153.75 297.60 C157.92 298.54 161.14 299.60 163.75 300.75 C166.36 301.90 168.22 302.96 169.40 304.50 C170.58 306.04 170.53 307.92 170.80 310.00 C171.07 312.08 170.38 314.92 171.00 317.00 C171.62 319.08 172.92 320.83 174.50 322.50 C176.08 324.17 179.50 326.25 180.50 327.00" stroke-width="0.9" />
<path d="M178.10 300.00 C177.80 301.67 176.82 306.88 176.30 310.00 C175.78 313.12 175.22 317.29 175.00 318.75" stroke-width="0.9" />
<line x1="183.40" y1="289.80" x2="181.90" y2="325.00" stroke-width="1.4" />
<line x1="183.75" y1="325.00" x2="183.75" y2="400.00" stroke-width="0.8" />
<line x1="185.00" y1="289.50" x2="186.90" y2="289.50" stroke-width="0.9" />
<line x1="186.90" y1="289.50" x2="186.90" y2="398.50" stroke-width="1.3" />
<path d="M186.6 300.1 L198.4 306.8 L204.2 309.4 Q207.6 311.5 208.2 315.5 L208.2 384.2 Q207.6 388.2 204.2 390.4 L198.4 393 L186.6 399.6" stroke-width="1.5" />
<line x1="198.30" y1="306.80" x2="198.30" y2="393.00" stroke-width="1.0" />
<line x1="204.30" y1="309.50" x2="204.30" y2="390.30" stroke-width="0.8" />
<line x1="186.80" y1="305.20" x2="198.20" y2="311.00" stroke-width="1.8" />
<line x1="187.50" y1="311.30" x2="198.20" y2="311.30" stroke-width="0.8" />
<line x1="186.80" y1="315.20" x2="198.20" y2="319.80" stroke-width="1.8" />
<line x1="187.50" y1="320.10" x2="198.20" y2="320.10" stroke-width="0.8" />
<line x1="186.80" y1="327.30" x2="198.20" y2="330.90" stroke-width="1.8" />
<line x1="187.50" y1="331.20" x2="198.20" y2="331.20" stroke-width="0.8" />
<line x1="186.80" y1="341.90" x2="198.20" y2="343.40" stroke-width="1.8" />
<line x1="187.50" y1="343.70" x2="198.20" y2="343.70" stroke-width="0.8" />
<line x1="186.80" y1="357.90" x2="198.20" y2="356.40" stroke-width="1.8" />
<line x1="187.50" y1="356.70" x2="198.20" y2="356.70" stroke-width="0.8" />
<line x1="186.80" y1="372.50" x2="198.20" y2="368.90" stroke-width="1.8" />
<line x1="187.50" y1="369.20" x2="198.20" y2="369.20" stroke-width="0.8" />
<line x1="186.80" y1="384.60" x2="198.20" y2="380.00" stroke-width="1.8" />
<line x1="187.50" y1="380.30" x2="198.20" y2="380.30" stroke-width="0.8" />
<line x1="186.80" y1="394.60" x2="198.20" y2="388.80" stroke-width="1.8" />
<line x1="187.50" y1="389.10" x2="198.20" y2="389.10" stroke-width="0.8" />
<path d="M62.30 311.60 C62.12 314.67 61.42 323.67 61.20 330.00 C60.98 336.33 61.00 342.93 61.00 349.60 C61.00 356.27 60.98 363.88 61.20 370.00 C61.42 376.12 62.12 383.58 62.30 386.30" stroke-width="0.9" />
<path d="M64.60 312.00 C64.52 315.00 64.20 323.73 64.10 330.00 C64.00 336.27 64.00 342.93 64.00 349.60 C64.00 356.27 64.00 363.77 64.10 370.00 C64.20 376.23 64.52 384.17 64.60 387.00" stroke-width="0.7" />
<path d="M62.30 311.60 L71.00 309.10 L74.80 307.30" stroke-width="0.9" />
<path d="M62.30 386.50 L72.30 390.60 L74.80 392.00" stroke-width="0.9" />
<line x1="72.90" y1="309.00" x2="72.90" y2="390.50" stroke-width="0.7" />
<line x1="74.80" y1="307.30" x2="74.80" y2="392.00" stroke-width="1.4" />
<line x1="81.60" y1="307.30" x2="81.60" y2="391.00" stroke-width="2.0" />
<line x1="81.60" y1="308.50" x2="114.80" y2="308.50" stroke-width="0.9" />
<line x1="61.50" y1="321.40" x2="106.50" y2="321.40" stroke-width="0.9" />
<line x1="61.50" y1="378.40" x2="106.20" y2="378.40" stroke-width="0.9" />
<line x1="80.60" y1="390.20" x2="111.50" y2="390.20" stroke-width="1.9" />
<ellipse cx="99.8" cy="313" rx="1.3" ry="2.8" transform="rotate(25 99.8 313)" stroke-width="0.9"/>
<circle cx="82.90" cy="349.50" r="1.20" stroke-width="0.8" />
<path d="M105.40 309.80 C105.72 311.67 106.57 317.47 107.30 321.00 C108.03 324.53 109.18 328.33 109.80 331.00 C110.42 333.67 110.77 334.00 111.00 337.00 C111.23 340.00 111.20 345.83 111.20 349.00 C111.20 352.17 111.13 353.75 111.00 356.00 C110.87 358.25 111.02 359.75 110.40 362.50 C109.78 365.25 108.03 368.75 107.30 372.50 C106.57 376.25 106.13 382.08 106.00 385.00 C105.87 387.92 106.42 389.17 106.50 390.00" stroke-width="0.9" />
<path d="M112.30 309.80 C112.17 311.17 111.97 315.80 111.50 318.00 C111.03 320.20 109.42 321.33 109.50 323.00 C109.58 324.67 111.33 326.17 112.00 328.00 C112.67 329.83 113.25 333.00 113.50 334.00" stroke-width="0.9" />
<line x1="111.60" y1="336.00" x2="111.60" y2="391.00" stroke-width="0.8" />
<line x1="114.80" y1="308.50" x2="114.80" y2="391.00" stroke-width="0.8" />
<line x1="111.60" y1="342.30" x2="114.80" y2="342.30" stroke-width="0.8" />
<line x1="111.60" y1="346.00" x2="114.80" y2="346.00" stroke-width="0.8" />
<line x1="111.60" y1="353.50" x2="114.80" y2="353.50" stroke-width="0.8" />
<line x1="111.60" y1="356.20" x2="114.80" y2="356.20" stroke-width="0.8" />
<line x1="117.60" y1="293.40" x2="117.60" y2="405.20" stroke-width="1.9" />
<line x1="120.40" y1="301.00" x2="120.40" y2="340.00" stroke-width="1.9" />
<path d="M119.80 297.30 L127.90 297.30 L127.90 312.30 L119.80 312.30Z" stroke-width="1.1" />
<line x1="129.10" y1="289.80" x2="129.10" y2="312.30" stroke-width="1.5" />
<line x1="127.90" y1="352.50" x2="127.90" y2="400.60" stroke-width="1.5" />
<line x1="118.50" y1="352.50" x2="128.00" y2="352.50" stroke-width="0.9" />
<path d="M118.50 403.00 L128.50 401.00 L128.50 352.50" stroke-width="0.9" />
<line x1="129.50" y1="360.00" x2="129.50" y2="407.50" stroke-width="1.5" />
<circle cx="120.20" cy="386.30" r="1.20" stroke-width="1.0" />
<line x1="123.00" y1="386.30" x2="128.00" y2="386.30" stroke-width="1.2" />
<path d="M121.00 313.00 C121.42 313.83 123.42 315.50 123.50 318.00 C123.58 320.50 122.17 324.83 121.50 328.00 C120.83 331.17 119.83 335.50 119.50 337.00" stroke-width="0.9" />
<path d="M124.50 313.00 C124.83 314.17 126.58 317.17 126.50 320.00 C126.42 322.83 124.83 327.00 124.00 330.00 C123.17 333.00 121.92 336.67 121.50 338.00" stroke-width="0.9" />
<path d="M118.10 338.75 L128.10 338.75 L143.00 363.00 L147.50 370.00" stroke-width="1.8" />
<path d="M147.50 370.00 C148.58 372.00 151.92 377.83 154.00 382.00 C156.08 386.17 158.17 390.75 160.00 395.00 C161.83 399.25 163.12 402.92 165.00 407.50 C166.88 412.08 169.38 417.50 171.25 422.50 C173.12 427.50 174.79 432.71 176.25 437.50 C177.71 442.29 178.86 446.67 180.00 451.25 C181.14 455.83 182.47 461.88 183.10 465.00 C183.72 468.12 183.64 469.17 183.75 470.00" stroke-width="1.8" />
<path d="M119.40 341.90 C121.17 344.92 127.08 355.32 130.00 360.00 C132.92 364.68 133.57 364.17 136.90 370.00 C140.23 375.83 146.57 388.33 150.00 395.00 C153.43 401.67 155.21 404.79 157.50 410.00 C159.79 415.21 161.88 421.04 163.75 426.25 C165.62 431.46 167.08 436.04 168.75 441.25 C170.42 446.46 172.50 452.71 173.75 457.50 C175.00 462.29 175.83 467.92 176.25 470.00" stroke-width="0.9" />
<line x1="176.25" y1="471.00" x2="183.50" y2="470.00" stroke-width="1.0" />
<line x1="120.00" y1="345.00" x2="126.00" y2="345.00" stroke-width="0.8" />
<line x1="120.00" y1="353.00" x2="130.00" y2="353.00" stroke-width="0.8" />
<path d="M125.00 315.00 C126.83 317.50 132.25 324.79 136.00 330.00 C139.75 335.21 143.50 341.46 147.50 346.25 C151.50 351.04 155.42 354.79 160.00 358.75 C164.58 362.71 171.88 366.79 175.00 370.00 C178.12 373.21 177.50 374.25 178.75 378.00 C180.00 381.75 181.67 388.62 182.50 392.50 C183.33 396.38 183.54 399.79 183.75 401.25" stroke-width="0.9" />
<path d="M128.75 318.75 C130.62 321.62 135.83 329.96 140.00 336.00 C144.17 342.04 149.58 349.75 153.75 355.00 C157.92 360.25 161.46 363.67 165.00 367.50 C168.54 371.33 173.33 376.25 175.00 378.00" stroke-width="0.9" />
<path d="M132.50 323.75 C134.08 326.12 138.88 333.62 142.00 338.00 C145.12 342.38 148.67 345.50 151.25 350.00 C153.83 354.50 155.42 360.33 157.50 365.00 C159.58 369.67 161.67 373.62 163.75 378.00 C165.83 382.38 168.12 386.75 170.00 391.25 C171.88 395.75 173.33 400.42 175.00 405.00 C176.67 409.58 179.17 416.46 180.00 418.75" stroke-width="0.9" />
<line x1="175.00" y1="371.25" x2="170.00" y2="391.25" stroke-width="0.9" />
<path d="M183.75 401.25 C183.38 403.04 182.12 408.46 181.50 412.00 C180.88 415.54 180.50 418.50 180.00 422.50 C179.50 426.50 178.92 431.75 178.50 436.00 C178.08 440.25 177.67 446.00 177.50 448.00" stroke-width="0.8" />
<line x1="168.75" y1="441.25" x2="176.25" y2="441.25" stroke-width="0.8" />
<path d="M85.60 392.40 L106.00 392.40 L106.00 398.00 L85.60 398.00Z" stroke-width="0.9" />
<line x1="95.80" y1="392.40" x2="95.80" y2="398.00" stroke-width="0.8" />
<line x1="86.50" y1="400.20" x2="105.00" y2="400.20" stroke-width="3.0" />
<path d="M85.60 402.60 C85.57 403.83 85.17 408.10 85.40 410.00 C85.63 411.90 85.90 412.87 87.00 414.00 C88.10 415.13 90.50 416.22 92.00 416.80 C93.50 417.38 94.67 417.50 96.00 417.50 C97.33 417.50 98.58 417.38 100.00 416.80 C101.42 416.22 103.47 415.13 104.50 414.00 C105.53 412.87 105.95 411.90 106.20 410.00 C106.45 408.10 106.03 403.83 106.00 402.60" stroke-width="0.9" />
<line x1="85.60" y1="402.60" x2="106.00" y2="402.60" stroke-width="0.9" />
<line x1="85.60" y1="411.20" x2="106.00" y2="411.20" stroke-width="0.8" />
<line x1="95.80" y1="402.60" x2="95.80" y2="411.20" stroke-width="0.9" />
<path d="M129.40 407.50 C131.38 407.71 135.32 408.43 141.25 408.75 C147.18 409.07 161.04 409.29 165.00 409.40" stroke-width="0.9" />
<path d="M135.00 409.40 C137.08 409.92 143.75 411.90 147.50 412.50 C151.25 413.10 155.83 412.92 157.50 413.00" stroke-width="0.8" />
<path d="M126.25 401.25 C125.62 404.38 123.22 412.21 122.50 420.00 C121.78 427.79 121.90 440.78 121.90 448.00 C121.90 455.22 122.57 457.42 122.50 463.30 C122.43 469.18 121.98 476.35 121.50 483.30 C121.02 490.25 120.13 498.05 119.60 505.00 C119.07 511.95 118.52 521.67 118.30 525.00" stroke-width="0.9" />
<path d="M140.00 409.40 C138.54 410.33 133.65 412.19 131.25 415.00 C128.85 417.81 126.85 420.75 125.60 426.25 C124.35 431.75 123.68 441.82 123.75 448.00 C123.82 454.18 125.79 457.42 126.00 463.30 C126.21 469.18 125.45 476.35 125.00 483.30 C124.55 490.25 124.00 498.22 123.30 505.00 C122.60 511.78 121.22 520.83 120.80 524.00" stroke-width="0.9" />
<path d="M140.00 410.60 C139.17 411.75 136.25 414.27 135.00 417.50 C133.75 420.73 132.92 424.92 132.50 430.00 C132.08 435.08 132.50 441.20 132.50 448.00 C132.50 454.80 132.50 467.00 132.50 470.80" stroke-width="0.9" />
<path d="M132.50 470.80 C134.08 471.67 138.53 474.18 142.00 476.00 C145.47 477.82 149.97 480.20 153.30 481.70 C156.63 483.20 159.22 484.17 162.00 485.00 C164.78 485.83 167.67 486.53 170.00 486.70 C172.33 486.87 174.33 486.42 176.00 486.00 C177.67 485.58 179.33 484.50 180.00 484.20" stroke-width="0.9" />
<path d="M165.00 428.75 C164.17 431.96 161.95 439.18 160.00 448.00 C158.05 456.82 154.42 476.08 153.30 481.70" stroke-width="0.9" />
<line x1="172.50" y1="458.30" x2="170.00" y2="486.70" stroke-width="0.9" />
<path d="M172.50 458.30 L176.70 470.80 L182.50 470.00" stroke-width="0.9" />
<path d="M185.00 398.75 C185.00 400.62 185.10 404.79 185.00 410.00 C184.90 415.21 184.53 423.67 184.40 430.00 C184.27 436.33 184.52 441.88 184.20 448.00 C183.88 454.12 183.20 459.42 182.50 466.70 C181.80 473.98 180.97 481.98 180.00 491.70 C179.03 501.42 177.25 519.45 176.70 525.00" stroke-width="1.0" />
<path d="M118.30 470.00 L122.50 461.70 L122.50 470.00Z" stroke-width="0.8" fill="#000"/>
<path d="M118.30 525.30 C119.97 525.38 124.40 524.47 128.30 525.80 C132.20 527.13 136.97 531.07 141.70 533.30 C146.43 535.53 152.53 538.37 156.70 539.20 C160.87 540.03 163.93 539.28 166.70 538.30 C169.47 537.32 171.50 535.23 173.30 533.30 C175.10 531.37 176.80 527.80 177.50 526.70" stroke-width="1.9" />
<path d="M118.30 525.30 L128.30 525.80" stroke-width="2.4" />
<path d="M177.50 526.70 L183.00 526.30" stroke-width="1.2" />
<path d="M183.00 526.30 C182.75 527.08 182.28 529.55 181.50 531.00 C180.72 532.45 180.22 533.50 178.30 535.00 C176.38 536.50 173.60 539.03 170.00 540.00 C166.40 540.97 158.92 540.67 156.70 540.80" stroke-width="1.1" />
<path d="M118.30 526.70 C120.80 528.08 128.02 532.68 133.30 535.00 C138.58 537.32 146.05 539.63 150.00 540.60 C153.95 541.57 155.83 540.77 157.00 540.80" stroke-width="0.8" />
</g>
</svg>
</body></html>
